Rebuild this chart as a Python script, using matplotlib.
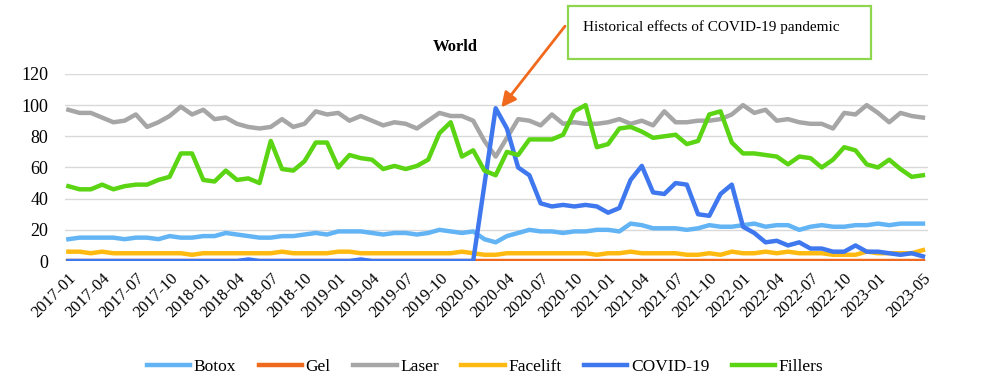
import numpy as np
import pandas as pd
import matplotlib
matplotlib.use("Agg")
import matplotlib.pyplot as plt
from matplotlib.patches import Rectangle

plt.rcParams['font.family'] = ['Liberation Serif', 'DejaVu Serif']

# monthly data 2017-01 .. 2023-05
months = pd.date_range('2017-01-01', '2023-05-01', freq='MS').strftime('%Y-%m').tolist()

botox = [14, 15, 15, 15, 15, 14, 15, 15, 14, 16, 15, 15, 16, 16, 18, 17,
         16, 15, 15, 16, 16, 17, 18, 17, 19, 19, 19, 18, 17, 18,
         18, 17, 18, 20, 19, 18, 19, 14, 12, 16, 18, 20, 19, 19, 18,
         19, 19, 20, 20, 19, 24, 23, 21, 21, 21, 20, 21, 23, 22, 22,
         23, 24, 22, 23, 23, 20, 22, 23, 22, 22, 23, 23, 24, 23, 24, 24, 24]

gel = [0] * 77

laser = [97, 95, 95, 92, 89, 90, 94, 86, 89, 93, 99, 94, 97, 91, 92, 88,
         86, 85, 86, 91, 86, 88, 96, 94, 95, 90, 93, 90, 87, 89,
         88, 85, 90, 95, 93, 93, 90, 77, 67, 79, 91, 90, 87, 94, 88,
         89, 88, 88, 89, 91, 88, 90, 87, 96, 89, 89, 90, 90, 91, 94,
         100, 95, 97, 90, 91, 89, 88, 88, 85, 95, 94, 100, 95, 89, 95, 93, 92]

facelift = [6, 6, 5, 6, 5, 5, 5, 5, 5, 5, 5, 4, 5, 5, 5, 5,
            5, 5, 5, 6, 5, 5, 5, 5, 6, 6, 5, 5, 5, 5,
            5, 5, 5, 5, 5, 6, 5, 4, 4, 5, 5, 5, 5, 5, 5,
            5, 5, 4, 5, 5, 6, 5, 5, 5, 5, 4, 4, 5, 4, 6,
            5, 5, 6, 5, 6, 5, 5, 5, 4, 4, 4, 6, 5, 5, 5, 5, 7]

covid = [0] * 16 + [1] + [0] * 9 + [1] + [0] * 10 + \
        [49, 98, 85, 60, 55, 37, 35,
         36, 35, 36, 35, 31, 34, 52, 61, 44, 43, 50, 49, 30, 29, 43, 49, 22,
         18, 12, 13, 10, 12, 8, 8, 6, 6, 10, 6, 6, 5, 4, 5, 3]

fillers = [48, 46, 46, 49, 46, 48, 49, 49, 52, 54, 69, 69, 52, 51, 58, 52,
           53, 50, 77, 59, 58, 64, 76, 76, 60, 68, 66, 65, 59, 61,
           59, 61, 65, 82, 89, 67, 71, 58, 55, 70, 68, 78, 78, 78, 81,
           96, 100, 73, 75, 85, 86, 83, 79, 80, 81, 75, 77, 94, 96, 76,
           69, 69, 68, 67, 62, 67, 66, 60, 65, 73, 71, 62, 60, 65, 59, 54, 55]

series = [("Botox", botox, "#62b4f5"),
          ("Gel", gel, "#f06a1d"),
          ("Laser", laser, "#a6a6a6"),
          ("Facelift", facelift, "#ffba12"),
          ("COVID-19", covid, "#3f78ee"),
          ("Fillers", fillers, "#5bd414")]

x = np.arange(len(months))

fig = plt.figure(figsize=(10, 3.85), dpi=100)
ax = fig.add_axes([0.065, 0.322, 0.863, 0.486])

for name, vals, col in series:
    ax.plot(x, vals, color=col, lw=3.2, label=name)

ax.set_ylim(0, 120)
ax.set_yticks(range(0, 121, 20))
ax.set_xlim(-0.3, 76.45)
ax.grid(axis='y', color='#d9d9d9', lw=1)
ax.set_axisbelow(True)
for s in ax.spines.values():
    s.set_visible(False)

tick_idx = list(range(0, 75, 3)) + [76]
ax.set_xticks(tick_idx)
ax.set_xticklabels([months[i] for i in tick_idx], rotation=45, ha='right',
                   rotation_mode='anchor', fontsize=12)
ax.tick_params(axis='both', length=0)
ax.tick_params(axis='x', pad=7)
ax.tick_params(axis='y', labelsize=13, pad=12)

fig.text(0.455, 0.879, "World", ha='center', va='center',
         fontsize=12, fontweight='bold')

# annotation box and arrow
box = Rectangle((0.568, 0.847), 0.303, 0.138, transform=fig.transFigure,
                fill=False, edgecolor='#8fd64f', lw=1.6)
fig.patches.append(box)
fig.text(0.583, 0.93, "Historical effects of COVID-19 pandemic",
         ha='left', va='center', fontsize=11)

peak = int(np.argmax(covid))
ax.annotate("", xy=(peak + 0.5, covid[peak] + 0.5), xycoords='data',
            xytext=(0.565, 0.932), textcoords='figure fraction',
            arrowprops=dict(arrowstyle='-|>', color='#f06a1d', lw=2,
                            mutation_scale=22, shrinkA=0, shrinkB=0),
            annotation_clip=False)

fig.legend(loc='center', bbox_to_anchor=(0.485, 0.047), ncol=6,
           frameon=False, fontsize=12.5, handlelength=2.5,
           handletextpad=0.2, columnspacing=1.3)

fig.savefig("out.png", dpi=100)
